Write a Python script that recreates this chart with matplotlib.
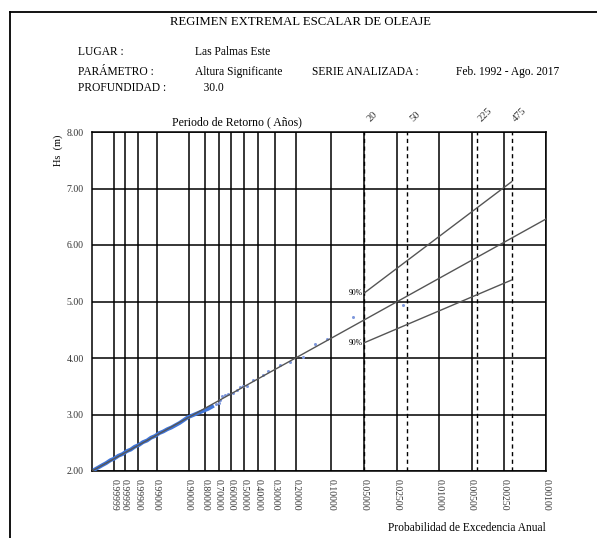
import numpy as np
import matplotlib
matplotlib.use("Agg")
import matplotlib.pyplot as plt
from matplotlib.lines import Line2D
from matplotlib.ticker import FixedLocator, FixedFormatter, NullLocator

plt.rcParams['font.family'] = ['Liberation Serif', 'DejaVu Serif']

# ---- data -------------------------------------------------------------
# exceedance probability of each ranked storm and its significant height
prob_exc = [0.999999973, 0.99999992, 0.9999997, 0.9999989, 0.9999964,
            0.99999, 0.999973, 0.999933, 0.99985, 0.99968,
            0.99938, 0.99884, 0.99795, 0.9965, 0.9944,
            0.9913, 0.9871, 0.9813, 0.9738, 0.9646,
            0.9531, 0.9392, 0.9227, 0.9042, 0.883,
            0.860, 0.835, 0.807, 0.779, 0.749,
            0.718, 0.700, 0.686, 0.670, 0.650,
            0.621, 0.589, 0.557, 0.530, 0.510,
            0.480, 0.434, 0.368, 0.338, 0.272,
            0.226, 0.175, 0.138, 0.108, 0.063, 0.022]
hs_obs = [2.03, 2.06, 2.10, 2.14, 2.19,
          2.22, 2.27, 2.30, 2.35, 2.38,
          2.43, 2.46, 2.51, 2.54, 2.59,
          2.62, 2.67, 2.70, 2.74, 2.77,
          2.81, 2.85, 2.90, 2.95, 2.98,
          3.01, 3.04, 3.07, 3.10, 3.14,
          3.18, 3.21, 3.26, 3.33, 3.34,
          3.36, 3.38, 3.44, 3.49, 3.50,
          3.51, 3.61, 3.70, 3.77, 3.88,
          3.93, 4.02, 4.24, 4.33, 4.73, 4.93]

# fitted distribution (straight on Gumbel paper)
fit_prob = [0.999999992, 0.001]
fit_hs = [2.00, 6.46]

# 90% confidence band
band_prob = [0.05, 1 / 475]
band_upper = [5.15, 7.12]
band_lower = [4.27, 5.38]

# return periods marked on top
return_periods = [20, 50, 225, 475]

prob_ticks = [0.99999, 0.9999, 0.999, 0.99, 0.9, 0.8, 0.7, 0.6, 0.5, 0.4,
              0.3, 0.2, 0.1, 0.05, 0.025, 0.01, 0.005, 0.0025, 0.001]
prob_tick_labels = ["0.99999", "0.99990", "0.99900", "0.99000", "0.90000",
                    "0.80000", "0.70000", "0.60000", "0.50000", "0.40000",
                    "0.30000", "0.20000", "0.10000", "0.05000", "0.02500",
                    "0.01000", "0.00500", "0.00250", "0.00100"]
hs_ticks = [2.0, 3.0, 4.0, 5.0, 6.0, 7.0, 8.0]


# ---- Gumbel probability scale (increasing in p; limits run high -> low) --
def gumbel_fwd(p):
    p = np.asarray(p, dtype=float)
    with np.errstate(all="ignore"):
        return np.log(-np.log1p(-p))


def gumbel_inv(t):
    t = np.asarray(t, dtype=float)
    with np.errstate(all="ignore"):
        return -np.expm1(-np.exp(t))


fig = plt.figure(figsize=(5.97, 5.38), dpi=100)
ax = fig.add_axes([92 / 597, 1 - 471 / 538, 454 / 597, 339 / 538])
ax.set_xscale("function", functions=(gumbel_fwd, gumbel_inv))
ax.set_xlim(fit_prob[0], fit_prob[1])
ax.set_ylim(2.0, 8.0)

ax.xaxis.set_major_locator(FixedLocator(prob_ticks))
ax.xaxis.set_major_formatter(FixedFormatter(prob_tick_labels))
ax.xaxis.set_minor_locator(NullLocator())
ax.set_yticks(hs_ticks)
ax.set_yticklabels([f"{v:.2f}" for v in hs_ticks])
ax.tick_params(axis="both", length=0, labelsize=7, colors="#333333")
ax.tick_params(axis="x", pad=6, labelrotation=-90)
ax.tick_params(axis="y", pad=6)
ax.grid(True, color="black", linewidth=1.1)
ax.set_axisbelow(True)
for s in ax.spines.values():
    s.set_color("black")
    s.set_linewidth(1.1)

# return-period markers
for T in return_periods:
    p = 1 / T
    ax.axvline(p, color="black", linestyle=(0, (3, 2.5)), linewidth=1.0, zorder=1)
    ax.annotate(str(T), xy=(p, 1.0), xycoords=("data", "axes fraction"),
                xytext=(6, 6), textcoords="offset points", rotation=45,
                ha="center", va="bottom", fontsize=7.5, color="#333333")

# observations and fit
ax.plot(prob_exc[:30], hs_obs[:30], color="#3f74d8", linewidth=2.8, zorder=3)
ax.plot(prob_exc[30:], hs_obs[30:], linestyle="none", marker="o",
        markersize=2.2, color="#7f98dc", markeredgewidth=0, zorder=3)
ax.plot(fit_prob, fit_hs, color="#555555", linewidth=1.0, zorder=4)
ax.plot(band_prob, band_upper, color="#555555", linewidth=1.0, zorder=4)
ax.plot(band_prob, band_lower, color="#555555", linewidth=1.0, zorder=4)
ax.annotate("90%", xy=(band_prob[0], band_upper[0]), xytext=(-1, 0),
            textcoords="offset points", ha="right", va="center", fontsize=5.5)
ax.annotate("90%", xy=(band_prob[0], band_lower[0]), xytext=(-1, 0),
            textcoords="offset points", ha="right", va="center", fontsize=5.5)

ax.text(0.319, 1.012, "Periodo de Retorno ( Años)", transform=ax.transAxes,
        ha="center", va="bottom", fontsize=8.5)
ax.text(-0.075, 0.947, "Hs  (m)", transform=ax.transAxes, rotation=90,
        ha="center", va="center", fontsize=7.5)
fig.text(546 / 597, 1 - 528 / 538, "Probabilidad de Excedencia Anual",
         ha="right", va="center", fontsize=8.3)

# header block
fs = 8.3
fig.text(300 / 597, 1 - 22 / 538, "REGIMEN EXTREMAL ESCALAR DE OLEAJE",
         ha="center", va="center", fontsize=9.2)
rows = [(52, "LUGAR :", "Las Palmas Este"),
        (72, "PARÁMETRO :", "Altura Significante"),
        (88, "PROFUNDIDAD :", "   30.0")]
for yy, key, val in rows:
    fig.text(78 / 597, 1 - yy / 538, key, ha="left", va="center", fontsize=fs)
    fig.text(195 / 597, 1 - yy / 538, val, ha="left", va="center", fontsize=fs)
fig.text(312 / 597, 1 - 72 / 538, "SERIE ANALIZADA :", ha="left",
         va="center", fontsize=fs)
fig.text(456 / 597, 1 - 72 / 538, "Feb. 1992 - Ago. 2017", ha="left",
         va="center", fontsize=fs)

# page frame
fig.add_artist(Line2D([10 / 597, 10 / 597], [0, 1 - 12 / 538], color="black",
                      linewidth=1.3, transform=fig.transFigure))
fig.add_artist(Line2D([10 / 597, 1], [1 - 12 / 538, 1 - 12 / 538],
                      color="black", linewidth=1.3, transform=fig.transFigure))

fig.savefig("out.png", dpi=100)
